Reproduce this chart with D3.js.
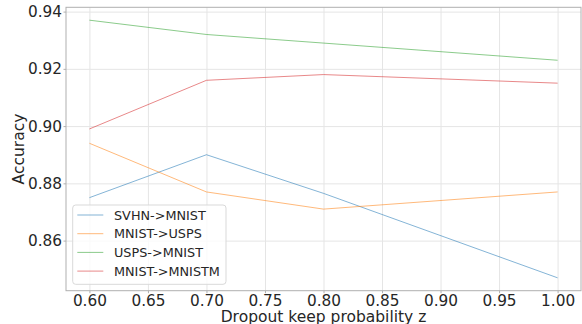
<!DOCTYPE html>
<html>
<head>
<meta charset="utf-8">
<script src="https://cdn.jsdelivr.net/npm/d3@7"></script>
<style>
  body { margin: 0; background: #fff; }
  text { font-family: "DejaVu Sans", sans-serif; fill: #262626; }
</style>
</head>
<body>
<div id="chart"></div>
<script>
const keepProb = [0.6, 0.7, 0.8, 1.0];
const seriesNames = ["SVHN->MNIST", "MNIST->USPS", "USPS->MNIST", "MNIST->MNISTM"];
const svhnMnist = [0.875, 0.890, 0.8765, 0.847];
const mnistUsps = [0.894, 0.877, 0.871, 0.877];
const uspsMnist = [0.937, 0.932, 0.929, 0.923];
const mnistMnistm = [0.899, 0.916, 0.918, 0.915];
const xTicks = [0.6, 0.65, 0.7, 0.75, 0.8, 0.85, 0.9, 0.95, 1.0];
const yTicks = [0.86, 0.88, 0.90, 0.92, 0.94];
const colors = ["#1f77b4", "#ff7f0e", "#2ca02c", "#d62728"];

const W = 582, H = 324;
const plotLeft = 66, plotRight = 581, plotTop = 7.3, plotBottom = 290.7;

const svg = d3.select("#chart").append("svg")
  .attr("width", W)
  .attr("height", H);

let x = d3.scaleLinear().domain([0.58, 1.02]).range([plotLeft, plotRight]);
let y = d3.scaleLinear().domain([0.8425, 0.9415]).range([plotBottom, plotTop]);

// grid
svg.append("g").attr("transform", `translate(0,${plotBottom})`)
  .call(d3.axisBottom(x).tickValues(xTicks).tickSize(-(plotBottom - plotTop)).tickFormat(""))
  .call(g => g.select(".domain").remove())
  .selectAll("line").attr("stroke", "#e5e5e5").attr("stroke-width", 1);
svg.append("g").attr("transform", `translate(${plotLeft},0)`)
  .call(d3.axisLeft(y).tickValues(yTicks).tickSize(-(plotRight - plotLeft)).tickFormat(""))
  .call(g => g.select(".domain").remove())
  .selectAll("line").attr("stroke", "#e5e5e5").attr("stroke-width", 1);

// lines
const allSeries = [svhnMnist, mnistUsps, uspsMnist, mnistMnistm];
const line = d3.line().x((d, i) => x(keepProb[i])).y(d => y(d));
allSeries.forEach((vals, k) => {
  svg.append("path")
    .datum(vals)
    .attr("d", line)
    .attr("fill", "none")
    .attr("stroke", colors[k])
    .attr("stroke-opacity", 0.55)
    .attr("stroke-width", 1);
});

// frame
svg.append("rect")
  .attr("x", plotLeft).attr("y", plotTop)
  .attr("width", plotRight - plotLeft).attr("height", plotBottom - plotTop)
  .attr("fill", "none").attr("stroke", "#b0b0b0").attr("stroke-width", 1);

// ticks + labels
let xAxis = svg.append("g").attr("transform", `translate(0,${plotBottom})`)
  .call(d3.axisBottom(x).tickValues(xTicks).tickSize(2.5).tickPadding(2).tickFormat(d3.format(".2f")));
xAxis.select(".domain").remove();
xAxis.attr("font-size", null).attr("font-family", null);
xAxis.selectAll("line").attr("stroke", "#b0b0b0");
xAxis.selectAll("text")
  .style("font-size", "15.3px")
  .style("font-family", "DejaVu Sans")
  .attr("fill", "#262626")
  .attr("dy", "0.7em");

let yAxis = svg.append("g").attr("transform", `translate(${plotLeft},0)`)
  .call(d3.axisLeft(y).tickValues(yTicks).tickSize(2.5).tickPadding(1.5).tickFormat(d3.format(".2f")));
yAxis.select(".domain").remove();
yAxis.attr("font-size", null).attr("font-family", null);
yAxis.selectAll("line").attr("stroke", "#b0b0b0");
yAxis.selectAll("text")
  .style("font-size", "15.3px")
  .style("font-family", "DejaVu Sans")
  .attr("fill", "#262626");

// axis labels
svg.append("text")
  .attr("x", (plotLeft + plotRight) / 2).attr("y", 321.5)
  .attr("text-anchor", "middle")
  .style("font-size", "15.5px")
  .text("Dropout keep probability z");
svg.append("text")
  .attr("transform", `translate(24,${(plotTop + plotBottom) / 2}) rotate(-90)`)
  .attr("text-anchor", "middle")
  .style("font-size", "15.5px")
  .text("Accuracy");

// legend
let legend = svg.append("g");
legend.append("rect")
  .attr("x", 72.7).attr("y", 205)
  .attr("width", 153.3).attr("height", 79.3)
  .attr("rx", 3)
  .attr("fill", "#fff").attr("fill-opacity", 0.8)
  .attr("stroke", "#d9d9d9").attr("stroke-width", 1);
seriesNames.forEach((name, k) => {
  const ry = 215 + k * 18.7;
  legend.append("line")
    .attr("x1", 77.3).attr("x2", 103.3)
    .attr("y1", ry).attr("y2", ry)
    .attr("stroke", colors[k]).attr("stroke-opacity", 0.55).attr("stroke-width", 1);
  legend.append("text")
    .attr("x", 114).attr("y", ry)
    .attr("dy", "0.36em")
    .style("font-size", "12.8px")
    .text(name);
});
</script>
</body>
</html>
